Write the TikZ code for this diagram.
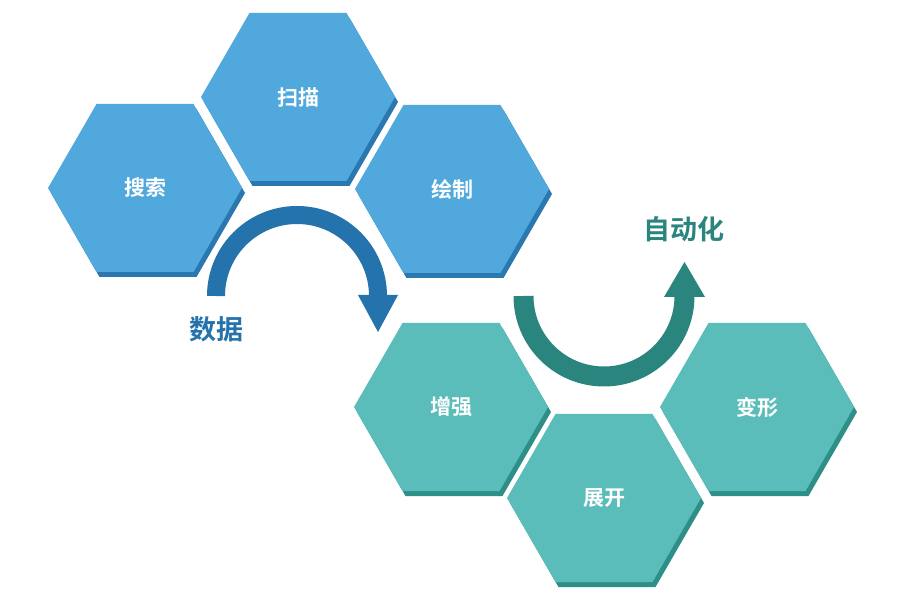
\documentclass[tikz,border=0pt]{standalone}
\usepackage{fontspec}
\setmainfont{Noto Sans CJK SC}[BoldFont={Noto Sans CJK SC Bold}]
\usetikzlibrary{shapes.geometric,shadows}
\definecolor{hexblue}{HTML}{51A8DD}
\definecolor{hexblueshadow}{HTML}{2B78B0}
\definecolor{arrowblue}{HTML}{2473AD}
\definecolor{hexteal}{HTML}{5BBDBA}
\definecolor{hextealshadow}{HTML}{2E8E88}
\definecolor{arrowteal}{HTML}{2A857F}
\tikzset{
  hexbase/.style={regular polygon, regular polygon sides=6, minimum size=194pt,
    inner sep=0pt, outer sep=0pt, draw=none, text=white,
    font=\bfseries\fontsize{21}{21}\selectfont},
  bluehex/.style={hexbase, fill=hexblue,
    copy shadow={shadow xshift=3pt, shadow yshift=-5pt, fill=hexblueshadow, draw=none}},
  tealhex/.style={hexbase, fill=hexteal,
    copy shadow={shadow xshift=3pt, shadow yshift=-5pt, fill=hextealshadow, draw=none}},
  biglabel/.style={font=\bfseries\fontsize{27}{27}\selectfont, inner sep=0pt}
}
\begin{document}
\begin{tikzpicture}[x=1pt,y=1pt]
\path[use as bounding box, fill=white] (0,0) rectangle (899,596);
% upper group
\node[bluehex] (sousuo) at (145,408) {搜索};
\node[bluehex] (saomiao) at (298,499) {扫描};
\node[bluehex] (huizhi) at (452,407) {绘制};
% lower group
\node[tealhex] (zengqiang) at (451,189) {增强};
\node[tealhex] (zhankai) at (604,98) {展开};
\node[tealhex] (bianxing) at (757,189) {变形};
% blue arrow
\coordinate (bstart) at (216,300);
\draw[line width=18pt, arrowblue] (bstart) arc[start angle=180, end angle=0, radius=81];
\fill[arrowblue] (358,301) -- (398,301) -- (378,264) -- cycle;
% teal arrow
\coordinate (tstart) at (523.5,300);
\draw[line width=20pt, arrowteal] (tstart) arc[start angle=180, end angle=360, radius=80.5];
\fill[arrowteal] (664,299) -- (705,299) -- (684.5,334) -- cycle;
% labels
\node[biglabel, text=arrowblue] (shuju) at (216,267) {数据};
\node[biglabel, text=arrowteal] (zidonghua) at (684,367) {自动化};
\end{tikzpicture}
\end{document}
